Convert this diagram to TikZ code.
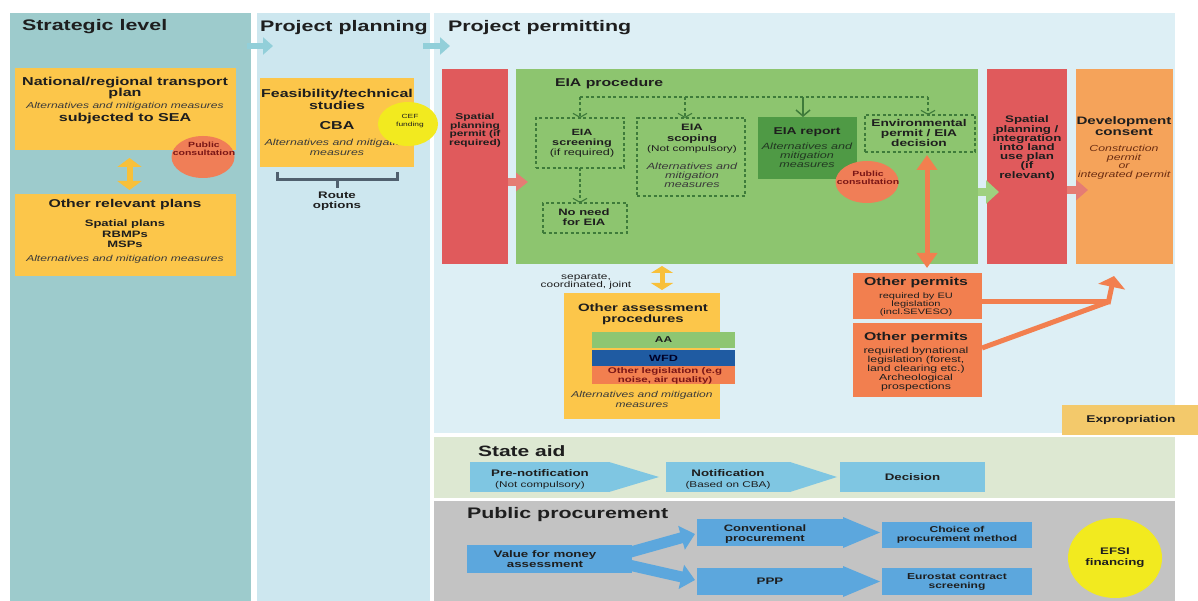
\documentclass[tikz,border=0pt]{standalone}
\usepackage{fontspec}
\setmainfont{Liberation Sans}[FakeStretch=1.4]
\usetikzlibrary{shapes.geometric,arrows.meta,calc}
\newcommand\fz[2]{\fontsize{#1}{#2}\selectfont}
\definecolor{ink}{HTML}{1E1E1E}
\definecolor{cIt}{HTML}{3A3A3A}
\definecolor{cStrat}{HTML}{9DCBCC}
\definecolor{cPlan}{HTML}{CDE7EF}
\definecolor{cPerm}{HTML}{DDEFF5}
\definecolor{cState}{HTML}{DDE8D2}
\definecolor{cProc}{HTML}{C3C3C3}
\definecolor{cYel}{HTML}{FCC64A}
\definecolor{cCons}{HTML}{F07E57}
\definecolor{cConsT}{HTML}{7A1616}
\definecolor{cCef}{HTML}{F2EA1F}
\definecolor{cRed}{HTML}{E05A5C}
\definecolor{cRedA}{HTML}{E57C74}
\definecolor{cGreen}{HTML}{8DC56F}
\definecolor{cGreenA}{HTML}{9FD17F}
\definecolor{cDG}{HTML}{3E7B3A}
\definecolor{cRep}{HTML}{4F9A45}
\definecolor{cRepT}{HTML}{223822}
\definecolor{cDev}{HTML}{F5A35A}
\definecolor{cDevT}{HTML}{6B2D12}
\definecolor{cOrg}{HTML}{F27F4F}
\definecolor{cExp}{HTML}{F3C96B}
\definecolor{cSA}{HTML}{7FC6E2}
\definecolor{cPB}{HTML}{5CA7DD}
\definecolor{cTA}{HTML}{92CFD9}
\definecolor{cYA}{HTML}{F8C03A}
\definecolor{cWFD}{HTML}{1F5BA2}
\definecolor{cAA}{HTML}{8EC672}
\definecolor{cBr}{HTML}{50606E}
\begin{document}
\begin{tikzpicture}[x=1pt,y=-1pt,
  area/.style={inner sep=0pt, outer sep=0pt, anchor=north west, draw=none},
  t/.style={inner sep=0pt, outer sep=0pt, anchor=base, align=center, text=ink},
  dbox/.style={area, draw=cDG, dash pattern=on 3pt off 2.5pt, line width=1.1pt},
  dl/.style={draw=cDG, dash pattern=on 3pt off 2.5pt, line width=1.1pt},
  dla/.style={dl, -{Straight Barb[length=4pt,width=14pt]}},
  tarrow/.style={draw=cTA, line width=6pt, -{Triangle[length=10pt,width=17pt]}},
  yarrow/.style={draw=cYA, line width=6pt, {Triangle[length=9pt,width=24pt]}-{Triangle[length=9pt,width=24pt]}},
  yarrowb/.style={draw=cYA, line width=5pt, {Triangle[length=7pt,width=22pt]}-{Triangle[length=7pt,width=22pt]}},
  odarrow/.style={draw=cOrg, line width=5pt, {Triangle[length=15pt,width=20pt]}-{Triangle[length=15pt,width=20pt]}},
  oarrow/.style={draw=cOrg, line width=5pt},
  rarrow/.style={draw=cRedA, line width=8pt, -{Triangle[length=12pt,width=18pt]}},
  garrow/.style={draw=cGreenA, line width=8pt, -{Triangle[length=13pt,width=23pt]}},
  parrow/.style={draw=cPB, line width=11pt, -{Triangle[length=14pt,width=24pt]}},
  cons/.style={ellipse, fill=cCons, inner sep=0pt, minimum width=63pt, minimum height=42pt},
]
\fill[white] (0,0) rectangle (1198,601);
\useasboundingbox (0,0) rectangle (1198,601);

% backgrounds
\node[area, fill=cStrat, minimum width=241pt, minimum height=588pt] (strat) at (10,13) {};
\node[area, fill=cPlan, minimum width=173pt, minimum height=588pt] (plan) at (257,13) {};
\node[area, fill=cPerm, minimum width=741pt, minimum height=420pt] (perm) at (434,13) {};
\node[area, fill=cState, minimum width=741pt, minimum height=61pt] (state) at (434,437) {};
\node[area, fill=cProc, minimum width=741pt, minimum height=100pt] (proc) at (434,501) {};

% titles
\node[t, anchor=base west, font={\fz{15.3}{17}\bfseries}] (stratT) at (22,31) {Strategic level};
\node[t, anchor=base west, font={\fz{15.3}{17}\bfseries}] (planT) at (260,32) {Project planning};
\node[t, anchor=base west, font={\fz{15.3}{17}\bfseries}] (permT) at (448,32) {Project permitting};
\node[t, anchor=base west, font={\fz{15}{17}\bfseries}] (stateT) at (478,456) {State aid};
\node[t, anchor=base west, font={\fz{15.3}{17}\bfseries}] (procT) at (467,518) {Public procurement};

% column arrows
\coordinate (ta1s) at (247,46); \coordinate (ta1e) at (273,46);
\coordinate (ta2s) at (423,46); \coordinate (ta2e) at (450,46);
\draw[tarrow] (ta1s) -- (ta1e);
\draw[tarrow] (ta2s) -- (ta2e);

% strategic level
\node[area, fill=cYel, minimum width=221pt, minimum height=82pt] (nat) at (15,68) {};
\node[t, font={\fz{11.5}{11}\bfseries}] (natT) at (125,97) {National/regional transport\\plan};
\node[t, text=cIt, font={\fz{8.6}{9}\itshape}] (natA) at (125,109) {Alternatives and mitigation measures};
\node[t, font={\fz{11.5}{11}\bfseries}] (natS) at (125,122) {subjected to SEA};
\node[cons] (pc1) at (203,157) {};
\node[t, text=cConsT, font={\fz{7.5}{7.5}\bfseries}] (pc1T) at (204,155.5) {Public\\consultation};
\node[area, fill=cYel, minimum width=221pt, minimum height=82pt] (oth) at (15,194) {};
\draw[yarrow] ($(nat.south)+(4,8)$) -- ($(oth.north)+(4,-4)$);
\node[t, font={\fz{11.3}{11}\bfseries}] (othT) at (125,208) {Other relevant plans};
\node[t, font={\fz{9.3}{10.5}\bfseries}] (othL) at (125,248) {Spatial plans\\RBMPs\\MSPs};
\node[t, text=cIt, font={\fz{8.6}{9}\itshape}] (othA) at (125,262) {Alternatives and mitigation measures};

% project planning
\node[area, fill=cYel, minimum width=154pt, minimum height=89pt] (feas) at (260,78) {};
\node[t, font={\fz{11.4}{12}\bfseries}] (feasT) at (337,110) {Feasibility/technical\\studies};
\node[t, font={\fz{11.5}{12}\bfseries}] (cba) at (337,130) {CBA};
\node[t, text=cIt, font={\fz{8.8}{10}\itshape}] (feasA) at (337,156) {Alternatives and mitigation\\measures};
\node[ellipse, fill=cCef, inner sep=0pt, minimum width=60pt, minimum height=44pt] (cef) at (408,124) {};
\node[t, font={\fz{6}{8}}] (cefT) at (410,127) {CEF\\funding};
\draw[draw=cBr, line width=3pt] (277,172) -- (277,180) -- (397,180) -- (397,172);
\draw[draw=cBr, line width=3pt] (337,180) -- (337,188);
\node[t, font={\fz{9.5}{9.5}\bfseries}] (route) at (337,208.5) {Route\\options};

% project permitting
\node[area, fill=cRed, minimum width=66pt, minimum height=195pt] (sp1) at (442,69) {};
\node[t, font={\fz{8.5}{8.5}\bfseries}] (sp1T) at (475,145.5) {Spatial\\planning\\permit (if\\required)};
\node[area, fill=cGreen, minimum width=462pt, minimum height=195pt] (eia) at (516,69) {};
\coordinate (r1s) at (508,182); \coordinate (r1e) at (528,182);
\draw[rarrow] (r1s) -- (r1e);
\node[t, anchor=base west, font={\fz{11.3}{12}\bfseries}] (eiaT) at (555,87) {EIA procedure};

\node[dbox, minimum width=88pt, minimum height=50pt] (scr) at (536,118) {};
\node[dbox, minimum width=84pt, minimum height=30pt] (noneed) at (543,203) {};
\node[dbox, minimum width=108pt, minimum height=78pt] (scop) at (637,118) {};
\node[area, fill=cRep, minimum width=99pt, minimum height=62pt] (rep) at (758,117) {};
\node[dbox, minimum width=110pt, minimum height=37pt] (env) at (865,115) {};

\coordinate (d1) at (580,97); \coordinate (d2) at (685,97);
\coordinate (d3) at (803,97); \coordinate (d4) at (928,97);
\draw[dl] (d1) -- (d4);
\draw[dla] (d1) -- (scr.north);
\draw[dla] (d2) -- (d2 |- scop.north);
\draw[dla] (d4) -- (d4 |- env.north);
\draw[draw=cDG, line width=1.5pt, -{Straight Barb[length=6pt,width=14pt]}] (d3) -- (d3 |- rep.north);
\draw[dla] (scr.south) -- (scr.south |- noneed.north);

\node[t, font={\fz{9}{10}\bfseries}] (scrT) at (582,146) {EIA\\screening};
\node[t, font={\fz{9}{10}}] (scrN) at (582,156) {(if required)};
\node[t, font={\fz{9.3}{10}\bfseries}] (noneedT) at (584,226) {No need\\for EIA};
\node[t, font={\fz{9.3}{11}\bfseries}] (scopT) at (692,142) {EIA\\scoping};
\node[t, font={\fz{8.4}{9}}] (scopN) at (692,152) {(Not compulsory)};
\node[t, text=cIt, font={\fz{9}{8.6}\itshape}] (scopA) at (692,187.2) {Alternatives and\\mitigation\\measures};
\node[t, font={\fz{9.9}{10}\bfseries}] (repT) at (807,135) {EIA report};
\node[t, text=cRepT, font={\fz{9}{9}\itshape}] (repA) at (807,168) {Alternatives and\\mitigation\\measures};
\node[t, font={\fz{9.8}{10}\bfseries}] (envT) at (919,147) {Environmental\\permit / EIA\\decision};
\node[cons] (pc2) at (867,182) {};
\node[t, text=cConsT, font={\fz{7.5}{7.5}\bfseries}] (pc2T) at (868,184.5) {Public\\consultation};

\node[area, fill=cRed, minimum width=80pt, minimum height=195pt] (sp2) at (987,69) {};
\coordinate (g1s) at (978,192); \coordinate (g1e) at (999,192);
\draw[garrow] (g1s) -- (g1e);
\node[t, font={\fz{9.5}{9.2}\bfseries}] (sp2T) at (1027,178.2) {Spatial\\planning /\\integration\\into land\\use plan\\(if\\relevant)};
\node[area, fill=cDev, minimum width=97pt, minimum height=195pt] (dev) at (1076,69) {};
\coordinate (r2s) at (1067,190); \coordinate (r2e) at (1088,190);
\draw[draw=cRedA, line width=8pt, -{Triangle[length=12pt,width=20pt]}] (r2s) -- (r2e);
\node[t, font={\fz{10.8}{11}\bfseries}] (devT) at (1124,136) {Development\\consent};
\node[t, text=cDevT, font={\fz{8.8}{8.4}\itshape}] (devA) at (1124,177.2) {Construction\\permit\\or\\integrated permit};

% other assessment procedures
\node[area, fill=cYel, minimum width=156pt, minimum height=126pt] (oap) at (564,293) {};
\coordinate (y2s) at (662,266); \coordinate (y2e) at (662,290);
\draw[yarrowb] (y2s) -- (y2e);
\node[t, font={\fz{8.5}{9}}] (sep) at (586,288) {separate,\\coordinated, joint};
\node[t, font={\fz{10.7}{11}\bfseries}] (oapT) at (643,323) {Other assessment\\procedures};
\node[area, fill=cAA, minimum width=143pt, minimum height=16pt] (aa) at (592,332) {};
\node[t, anchor=center, font={\fz{8.5}{9}\bfseries}] (aaT) at (aa) {AA};
\node[area, fill=cWFD, minimum width=143pt, minimum height=16pt] (wfd) at (592,350) {};
\node[t, anchor=center, text=black!85!blue, font={\fz{9}{9}\bfseries}] (wfdT) at (wfd) {WFD};
\node[area, fill=cOrg, minimum width=143pt, minimum height=18pt] (ol) at (592,366) {};
\node[t, text=cConsT, font={\fz{8.2}{7.6}\bfseries}] (olT) at (665,382.1) {Other legislation (e.g\\noise, air quality)};
\node[t, text=cIt, font={\fz{8.6}{10}\itshape}] (oapA) at (642,407) {Alternatives and mitigation\\measures};

% other permits
\node[area, fill=cOrg, minimum width=129pt, minimum height=46pt] (op1) at (853,273) {};
\node[t, font={\fz{11.3}{11}\bfseries}] (op1T) at (916,286) {Other permits};
\node[t, font={\fz{7.9}{8}}] (op1S) at (916,314) {required by EU\\legislation\\(incl.SEVESO)};
\node[area, fill=cOrg, minimum width=129pt, minimum height=74pt] (op2) at (853,323) {};
\node[t, font={\fz{11.3}{11}\bfseries}] (op2T) at (916,340) {Other permits};
\node[t, font={\fz{8.8}{9}}] (op2S) at (916,389) {required bynational\\legislation (forest,\\land clearing etc.)\\Archeological\\prospections};
\draw[odarrow] ($(env.south)+(7,3)$) -- ($(op1.north)+(9.5,-5)$);
\coordinate (J) at (1108,302); \coordinate (Jtip) at (1114,276);
\draw[oarrow] (op1.east |- J) -- (J);
\draw[oarrow] ($(op2.east)+(0,-12)$) -- (J);
\draw[oarrow, -{Triangle[length=11pt,width=27pt]}] ($(J)+(0,2)$) -- (Jtip);

\node[area, fill=cExp, minimum width=136pt, minimum height=30pt] (exp) at (1062,405) {};
\node[t, anchor=center, font={\fz{9.8}{10}\bfseries}] (expT) at (1131,420) {Expropriation};

% state aid
\node[area, fill=cSA, minimum width=139pt, minimum height=30pt] (pre) at (470,462) {};
\fill[cSA] (pre.north east) -- ($(pre.east)+(50,0)$) -- (pre.south east) -- cycle;
\node[t, font={\fz{9.5}{10}\bfseries}] (preT) at (540,476) {Pre-notification};
\node[t, font={\fz{8.4}{9}}] (preN) at (540,487) {(Not compulsory)};
\node[area, fill=cSA, minimum width=124pt, minimum height=30pt] (notif) at (666,462) {};
\fill[cSA] (notif.north east) -- ($(notif.east)+(47,0)$) -- (notif.south east) -- cycle;
\node[t, font={\fz{9.5}{10}\bfseries}] (notifT) at (728,476) {Notification};
\node[t, font={\fz{8.4}{9}}] (notifN) at (728,487) {(Based on CBA)};
\node[area, fill=cSA, minimum width=145pt, minimum height=30pt] (dec) at (840,462) {};
\node[t, anchor=center, font={\fz{9.5}{10}\bfseries}] (decT) at (dec) {Decision};

% public procurement
\node[area, fill=cPB, minimum width=165pt, minimum height=28pt] (vfm) at (467,545) {};
\node[area, fill=cPB, minimum width=146pt, minimum height=27pt] (conv) at (697,519) {};
\node[area, fill=cPB, minimum width=146pt, minimum height=27pt] (ppp) at (697,568) {};
\draw[parrow] ($(vfm.east)+(-12,-4)$) -- ($(conv.west)+(-2,1.5)$);
\draw[parrow] ($(vfm.east)+(-12,4)$) -- ($(ppp.west)+(-2,-1.5)$);
\fill[cPB] ($(conv.north east)+(0,-2)$) -- ($(conv.east)+(37,0)$) -- ($(conv.south east)+(0,2)$) -- cycle;
\fill[cPB] ($(ppp.north east)+(0,-2)$) -- ($(ppp.east)+(37,0)$) -- ($(ppp.south east)+(0,2)$) -- cycle;
\node[t, font={\fz{9.5}{10}\bfseries}] (vfmT) at (545,567) {Value for money\\assessment};
\node[t, font={\fz{9.3}{10.5}\bfseries}] (convT) at (765,541.5) {Conventional\\procurement};
\node[t, anchor=center, font={\fz{9.5}{10}\bfseries}] (pppT) at (ppp) {PPP};
\node[area, fill=cPB, minimum width=150pt, minimum height=26pt] (choice) at (882,522) {};
\node[t, font={\fz{8.6}{9.5}\bfseries}] (choiceT) at (957,541.5) {Choice of\\procurement method};
\node[area, fill=cPB, minimum width=150pt, minimum height=27pt] (eur) at (882,568) {};
\node[t, font={\fz{8.6}{9.5}\bfseries}] (eurT) at (957,588.5) {Eurostat contract\\screening};
\node[ellipse, fill=cCef, inner sep=0pt, minimum width=94pt, minimum height=80pt] (efsi) at (1115,558) {};
\node[t, font={\fz{9.5}{11}\bfseries}] (efsiT) at (1115,565) {EFSI\\financing};
\end{tikzpicture}
\end{document}
